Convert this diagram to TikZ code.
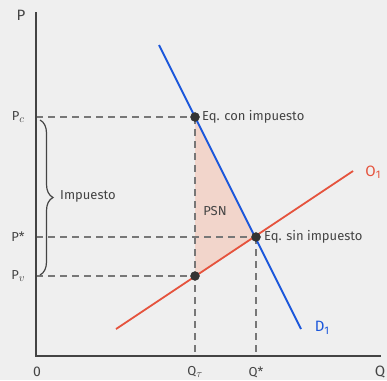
\documentclass[tikz,border=0pt]{standalone}
\usepackage{fontspec}
\setmainfont{Fira Sans}
\usetikzlibrary{positioning,decorations.pathreplacing}

\definecolor{bgcol}{HTML}{EFEFEF}
\definecolor{txtcol}{HTML}{444444}
\definecolor{dashcol}{HTML}{777777}
\definecolor{demcol}{HTML}{1A56DB}
\definecolor{ofcol}{HTML}{E5533D}
\definecolor{psncol}{HTML}{F2D5CB}
\definecolor{dotcol}{HTML}{333333}

\newcommand{\lsub}[1]{\raisebox{-2.5pt}{\fontsize{11}{11}\selectfont #1}}

\tikzset{
  lbl/.style={text=txtcol, font=\fontsize{13}{15}\selectfont, inner sep=1pt},
  guide/.style={dashcol, dash pattern=on 7pt off 5pt, line width=1.1pt},
  axis/.style={txtcol, line width=1.1pt}
}

\begin{document}
\begin{tikzpicture}[x=1pt, y=-1pt]
\fill[bgcol] (0,0) rectangle (387,380);
\useasboundingbox (0,0) rectangle (387,380);

\def\xo{36}
\def\yo{356}
\def\xt{195}
\def\xs{256}
\def\yc{117}
\def\ys{237}
\def\yv{276}

\coordinate (o) at (\xo, \yo);
\coordinate (ptop) at (\xo, 12);
\coordinate (qend) at (381, \yo);
\coordinate (con) at (\xt, \yc);
\coordinate (sin) at (\xs, \ys);
\coordinate (low) at (\xt, \yv);
\coordinate (pc) at (\xo, \yc);
\coordinate (ps) at (\xo, \ys);
\coordinate (pv) at (\xo, \yv);
\coordinate (qt) at (\xt, \yo);
\coordinate (qs) at (\xs, \yo);
\coordinate (dtop) at (159, 45);
\coordinate (dbot) at (301, 329);
\coordinate (obot) at (116, 329);
\coordinate (otop) at (353, 171);

% area
\fill[psncol] (con) -- (sin) -- (low) -- cycle;
\node[lbl] (psn) at (215, 211) {PSN};

% guides
\draw[guide] (pc) -- (con);
\draw[guide] (ps) -- (sin);
\draw[guide] (pv) -- (low);
\draw[guide] (con) -- (qt);
\draw[guide] (sin) -- (qs);

% axes
\draw[axis] (ptop) -- (o) -- (qend);

% curves
\draw[ofcol, line width=1.8pt] (obot) -- (otop);
\draw[demcol, line width=1.8pt] (dtop) -- (dbot);

\filldraw[dotcol] (con) circle (4.5pt);
\filldraw[dotcol] (sin) circle (4.5pt);
\filldraw[dotcol] (low) circle (4.5pt);

\node[lbl, right=6pt of con] (eqcon) {Eq. con impuesto};
\node[lbl, right=7pt of sin] (eqsin) {Eq. sin impuesto};
\node[lbl, text=ofcol, font=\fontsize{15}{17}\selectfont] (olbl) at (373, 172) {O\lsub{1}};
\node[lbl, text=demcol, font=\fontsize{15}{17}\selectfont] (dlbl) at (322, 328) {D\lsub{1}};

% brace
\draw[txtcol, line width=1.2pt, decorate, decoration={brace, amplitude=13pt}]
  (40, 120) -- (40, 275) coordinate[midway] (bmid);
\node[lbl, anchor=west] (imp) at (59, 196) {Impuesto};

% axis labels
\node[lbl, font=\fontsize{15}{17}\selectfont] (plbl) at (21, 15) {P};
\node[lbl, font=\fontsize{15}{17}\selectfont] (qlbl) at (380, 372) {Q};
\node[lbl, font=\rmfamily\fontsize{14}{16}\selectfont] (zero) at (37, 372) {0};
\node[lbl] (pclbl) at (18, \yc) {P\lsub{$c$}};
\node[lbl] (pslbl) at (18, \ys) {P*};
\node[lbl] (pvlbl) at (18, \yv) {P\lsub{$v$}};
\node[lbl] (qtlbl) at (\xt, 372) {Q\lsub{$\tau$}};
\node[lbl] (qslbl) at (\xs, 372) {Q*};
\end{tikzpicture}
\end{document}
